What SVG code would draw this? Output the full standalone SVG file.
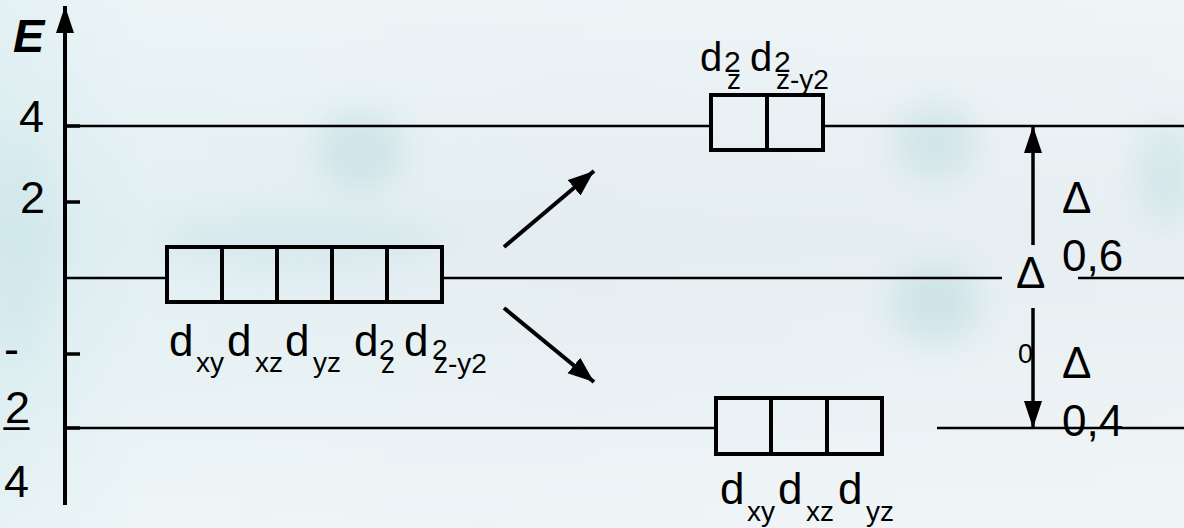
<svg xmlns="http://www.w3.org/2000/svg" width="1184" height="528" viewBox="0 0 1184 528">
  <defs>
    <linearGradient id="bg" x1="0" y1="0" x2="1" y2="0">
      <stop offset="0" stop-color="#d6eaee"/>
      <stop offset="0.12" stop-color="#e2eff2"/>
      <stop offset="0.5" stop-color="#e4edf1"/>
      <stop offset="1" stop-color="#e7eff2"/>
    </linearGradient>
    <linearGradient id="bgv" x1="0" y1="0" x2="0" y2="1">
      <stop offset="0" stop-color="#ffffff" stop-opacity="0.35"/>
      <stop offset="0.45" stop-color="#ffffff" stop-opacity="0"/>
      <stop offset="1" stop-color="#ffffff" stop-opacity="0.4"/>
    </linearGradient>
    <filter id="blur" x="-50%" y="-50%" width="200%" height="200%">
      <feGaussianBlur stdDeviation="16"/>
    </filter>
    <marker id="ah" markerUnits="userSpaceOnUse" markerWidth="28" markerHeight="22" refX="26" refY="10" orient="auto">
      <path d="M0,0 L26,10 L0,20 z" fill="#000"/>
    </marker>
    <marker id="ahv" markerUnits="userSpaceOnUse" markerWidth="28" markerHeight="20" refX="27" refY="9" orient="auto">
      <path d="M0,0 L27,9 L0,18 z" fill="#000"/>
    </marker>
  </defs>
  <style>
    .lvl { stroke: #000; stroke-width: 2.5; fill: none; }
    .tick { stroke: #000; stroke-width: 3.5; }
    .box { stroke: #000; stroke-width: 4; fill: none; }
    .conn { stroke: #000; stroke-width: 4; fill: none; }
    .dim { stroke: #000; stroke-width: 3.5; fill: none; }
    text { font-family: "Liberation Sans", Arial, sans-serif; fill: #000; }
    .big { font-size: 44px; }
    .mid { font-size: 40px; }
    .sub { font-size: 28px; }
    .sub2 { font-size: 28px; }
    .axl { font-size: 45px; }
  </style>

  <!-- background -->
  <g id="background">
    <rect x="0" y="0" width="1184" height="528" fill="url(#bg)"/>
    <g filter="url(#blur)" opacity="0.45">
      <ellipse cx="360" cy="150" rx="45" ry="40" fill="#a9d3d6"/>
      <ellipse cx="935" cy="140" rx="42" ry="38" fill="#a9d3d6"/>
      <ellipse cx="935" cy="305" rx="45" ry="40" fill="#a9d3d6"/>
      <ellipse cx="1165" cy="170" rx="30" ry="50" fill="#b5dadd"/>
      <ellipse cx="20" cy="250" rx="30" ry="120" fill="#c8e4e8"/>
      <ellipse cx="300" cy="240" rx="140" ry="30" fill="#c9e3e6"/>
    </g>
    <rect x="0" y="0" width="1184" height="528" fill="url(#bgv)"/>
  </g>

  <!-- energy axis -->
  <g id="axis">
    <line x1="65" y1="505" x2="65" y2="6" class="conn" stroke-width="3.5" marker-end="url(#ahv)"/>
    <line x1="65" y1="126" x2="80" y2="126" class="tick"/>
    <line x1="65" y1="202" x2="80" y2="202" class="tick"/>
    <line x1="65" y1="354" x2="80" y2="354" class="tick"/>
    <line x1="65" y1="428" x2="80" y2="428" class="tick"/>
    <text x="13" y="52" font-size="47" font-weight="bold" font-style="italic">E</text>
    <text x="19" y="132" class="axl">4</text>
    <text x="20" y="213" class="axl">2</text>
    <text x="4" y="364" class="axl">-</text>
    <text x="5" y="423" class="axl">2</text>
    <text x="4" y="421" class="axl">_</text>
    <text x="4" y="497" class="axl">4</text>
  </g>

  <!-- energy levels -->
  <g id="levels">
    <line x1="65" y1="126" x2="711" y2="126" class="lvl"/>
    <line x1="823" y1="126" x2="1184" y2="126" class="lvl"/>
    <line x1="65" y1="278" x2="167" y2="278" class="lvl"/>
    <line x1="442" y1="278" x2="1002" y2="278" class="lvl"/>
    <line x1="1078" y1="278" x2="1184" y2="278" class="lvl"/>
    <line x1="65" y1="428" x2="716" y2="428" class="lvl"/>
    <line x1="937" y1="428" x2="1184" y2="428" class="lvl"/>
  </g>

  <!-- free ion: five degenerate d orbitals -->
  <g id="node-d5">
    <rect x="167" y="247" width="275" height="55" class="box"/>
    <line x1="222" y1="247" x2="222" y2="302" class="box"/>
    <line x1="277" y1="247" x2="277" y2="302" class="box"/>
    <line x1="332" y1="247" x2="332" y2="302" class="box"/>
    <line x1="387" y1="247" x2="387" y2="302" class="box"/>
    <text x="169" y="356" class="big">d</text>
    <text x="196" y="372" class="sub">xy</text>
    <text x="227" y="356" class="big">d</text>
    <text x="255" y="372" class="sub">xz</text>
    <text x="285" y="356" class="big">d</text>
    <text x="313" y="372" class="sub">yz</text>
    <text x="354" y="356" class="big">d</text>
    <text x="379" y="359" class="sub2">2</text>
    <text x="381" y="373" class="sub2">z</text>
    <text x="404" y="356" class="big">d</text>
    <text x="432" y="359" class="sub2">2</text>
    <text x="434" y="373" class="sub2">z-y2</text>
  </g>

  <!-- eg level -->
  <g id="node-eg">
    <rect x="711" y="95" width="112" height="55" class="box"/>
    <line x1="767" y1="95" x2="767" y2="150" class="box"/>
    <text x="700" y="71" class="mid">d</text>
    <text x="724" y="72" font-size="30">2</text>
    <text x="727" y="89" class="sub2">z</text>
    <text x="750" y="71" class="mid">d</text>
    <text x="774" y="72" font-size="30">2</text>
    <text x="776" y="89" class="sub2">z-y2</text>
  </g>

  <!-- t2g level -->
  <g id="node-t2g">
    <rect x="716" y="398" width="166" height="56" class="box"/>
    <line x1="771" y1="398" x2="771" y2="454" class="box"/>
    <line x1="827" y1="398" x2="827" y2="454" class="box"/>
    <text x="720" y="504" class="big">d</text>
    <text x="747" y="521" class="sub">xy</text>
    <text x="778" y="504" class="big">d</text>
    <text x="806" y="521" class="sub">xz</text>
    <text x="838" y="504" class="big">d</text>
    <text x="866" y="521" class="sub">yz</text>
  </g>

  <!-- splitting labels -->
  <g id="splitting">
    <text x="1016" y="288" class="big">Δ</text>
    <text x="1018" y="363" font-size="27">0</text>
    <text x="1062" y="213" class="big">Δ</text>
    <text x="1062" y="271" class="big">0,6</text>
    <text x="1062" y="378" class="big">Δ</text>
    <text x="1062" y="436" class="big">0,4</text>
  </g>

  <!-- connectors -->
  <g id="connectors">
    <line x1="504" y1="247" x2="594" y2="171" class="conn" marker-end="url(#ah)"/>
    <line x1="504" y1="308" x2="594" y2="382" class="conn" marker-end="url(#ah)"/>
    <line x1="1033" y1="245" x2="1033" y2="126" class="dim" marker-end="url(#ahv)"/>
    <line x1="1033" y1="308" x2="1033" y2="428" class="dim" marker-end="url(#ahv)"/>
  </g>
</svg>
